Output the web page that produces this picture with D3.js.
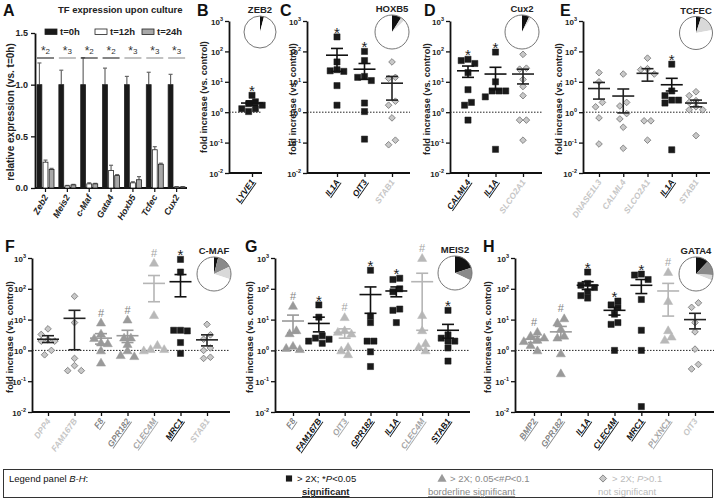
<!DOCTYPE html>
<html><head><meta charset="utf-8">
<script src="https://cdn.jsdelivr.net/npm/d3@7"></script>
<style>body{margin:0;background:#fff}svg{font-family:Arial,"Liberation Sans",sans-serif}</style>
</head><body><svg id="c" width="717" height="499"></svg>
<script>
// ---------------- DATA ----------------
// Panel A
const A_genes = ["Zeb2","Meis2","c-Maf","Gata4","Hoxb5","Tcfec","Cux2"];
const A_times = ["t=0h","t=12h","t=24h"];
const A_t0  = [1,1,1,1,1,1,1];
const A_t12 = [0.25,0.02,0.04,0.17,0.05,0.37,0.01];
const A_t24 = [0.18,0.03,0.04,0.12,0.08,0.23,0.01];
const A_err0  = [0.21,0.14,0.26,0.16,0.08,0.12,0.10];
const A_err12 = [0.02,0.005,0.01,0.05,0.01,0.03,0.003];
const A_err24 = [0.01,0.005,0.005,0.01,0.03,0.01,0.003];
const A_sig = ["2","3","2","2","3","3","3"];
const A_yTicks = [0,0.5,1.0,1.5];
const LOG_TICKS = [1e-2,1e-1,1,1e1,1e2,1e3];
const LOG_EXP = ["-2","-1","0","1","2","3"];

// Panel B (ZEB2)
const B_genes = ["LYVE1"];
const B_class = ["sig"];
const B_points = [[3.6,2.2,1.9,1.7,1.3,1.3,1.05]];
const B_mean = [2.0], B_lo = [1.7], B_hi = [2.35];
const B_pie = [0.04,0,0,0.96];

// Panel C (HOXB5)
const C_genes = ["IL1A","OIT3","STAB1"];
const C_class = ["sig","sig","ns"];
const C_points = [[300,45,25,23,22,7.5,1.7],[100,50,15,14,11,2.0,1.05,0.13],[45,14,13,2.3,1.7,0.65,0.12,0.085]];
const C_mean = [75,26,9], C_lo = [22,12,2.5], C_hi = [125,40,15];
const C_pie = [0.09,0,0.04,0.87];

// Panel D (Cux2)
const D_genes = ["CALML4","IL1A","SLCO2A1"];
const D_class = ["sig","sig","ns"];
const D_points = [[55,50,40,20,5.5,2.1,1.7,0.55],[95,10,5,5,5,3.2,0.06],[80,28,26,12,7,3.5,0.55,0.55,0.12]];
const D_mean = [23,18,18], D_lo = [14,5.5,8.5], D_hi = [33,30,26];
const D_pie = [0.07,0,0.02,0.91];

// Panel E (TCFEC)
const E_genes = ["DNASE1L3","CALML4","SLCO2A1","IL1A","STAB1"];
const E_class = ["ns","ns","ns","sig","ns"];
const E_points = [[20,10,2.1,1.5,0.65,0.09],[18,2.1,1.6,0.9,0.6,0.32,0.065],[60,27,25,18,0.52,0.52,0.12],[38,5,3.5,2.5,2.5,2.0,0.058],[4.7,3.5,2.4,2.1,1.5,1.2,1.2,0.17]];
const E_mean = [6,3.4,19,8,2.0], E_lo = [2.7,0.95,10.5,5,1.5], E_hi = [9.5,5.8,27,13,2.5];
const E_pie = [0.05,0,0.17,0.78];

// Panel F (C-MAF)
const F_genes = ["DPP4","FAM167B","F8","GPR182","CLEC4M","MRC1","STAB1"];
const F_class = ["ns","ns","bord","bord","bordL","sig","ns"];
const F_points = [[5,3.3,2.2,2.0,2.0,1.0,0.72],[57,8,0.55,0.32,0.22,0.22],[8,3.5,2.5,1.8,1.7,1.0,0.4],[10,2.6,2.6,1.6,1.0,0.7,0.65],[700,14,1.5,1.1,1.0,1.1],[900,350,4.5,4.5,4.3,1.8,0.8],[7,3.2,2.3,1.2,1.0,0.6,0.55]];
const F_mean = [2.3,11,2.5,3.0,150,170,2.2], F_lo = [1.8,1.05,1.6,1.8,38,55,1.4], F_hi = [3.0,20,3.5,4.5,270,290,3.2];
const F_pie = [0.04,0.14,0.12,0.70];

// Panel G (MEIS2)
const G_genes = ["F8","FAM167B","OIT3","GPR182","IL1A","CLEC4M","STAB1"];
const G_class = ["bord","sig","bordL","sig","sig","bordL","sig"];
const G_points = [[28,4.5,3.6,1.4,1.2,1.1],[30,12,3,2.5,2.3,2.0,1.7],[12,4.5,4,3.5,1.3,1.0,0.75],[400,13,8,2.0,2.0,0.9,0.3],[220,200,100,80,22,20,8],[1000,14,4.5,1.7,1.3,1.0],[20,3.2,2.5,2.0,2.0,1.2,0.45]];
const G_mean = [9,7.5,3.8,65,85,170,4.5], G_lo = [3.7,4,2.5,16,55,4.5,2.5], G_hi = [14,12,5,115,115,320,7];
const G_pie = [0.20,0.12,0,0.68];

// Panel H (GATA4)
const H_genes = ["BMP2","GPR182","IL1A","CLEC4M","MRC1","PLXNC1","OIT3"];
const H_class = ["bord","bord","sig","sig","sig","bordL","ns"];
const H_points = [[4,3,2.6,2.2,2.0,1.5,1.0],[11,8,5,3,2.6,0.8,0.18],[350,150,130,110,80,60,50],[40,30,25,15,8,7,1.0],[300,280,200,45,4.5,1.0,0.015],[350,40,4.5,2.8,2.2],[35,25,8,4,1.1,0.35,0.25]];
const H_mean = [2.3,4,130,20,130,85,10], H_lo = [1.8,2.6,95,14,70,13,5], H_hi = [2.8,6,170,25,200,150,16];
const H_pie = [0.12,0.14,0.05,0.69];

// ---------------- STYLE ----------------
const STY = {
  sig:   {fill:"#1a1a1a", stroke:"#1a1a1a", label:"#111", under:true, bar:"#111", mark:"*"},
  bord:  {fill:"#9a9a9a", stroke:"#9a9a9a", label:"#858585", under:true, bar:"#999", mark:"#"},
  bordL: {fill:"#b8b8b8", stroke:"#b8b8b8", label:"#a5a5a5", under:true, bar:"#b5b5b5", mark:"#"},
  ns:    {fill:"#c8c8c8", stroke:"#777", label:"#c6c6c6", under:false, bar:"#222", mark:""}
};
const PIE_COLORS = ["#111","#8a8a8a","#d9d9d9","#ffffff"];
const FONT = "Arial,'Liberation Sans',sans-serif";

const svg = d3.select("#c");

function letter(t,x,y){
  svg.append("text").attr("x",x).attr("y",y).attr("font-size",16).attr("font-weight","bold").attr("fill","#111").text(t);
}

// ---------------- PANEL A ----------------
(function(){
  const g = svg.append("g");
  const x0 = d3.scaleBand().domain(A_genes).range([36,189]);
  const x1 = d3.scaleBand().domain(A_times).range([1,18]).paddingInner(0.2);
  const y = d3.scaleLinear().domain([0,1.5]).range([188,33]);
  const vals = [A_t0,A_t12,A_t24], errs = [A_err0,A_err12,A_err24];
  const fills = ["#1a1a1a","#ffffff","#a8a8a8"];
  const ya = g.append("g").attr("transform","translate(35,0)")
    .call(d3.axisLeft(y).tickValues(A_yTicks).tickFormat(d3.format(".1f")).tickSize(4).tickSizeOuter(0));
  ya.select(".domain").attr("stroke","#111").attr("stroke-width",1.8);
  ya.selectAll(".tick line").attr("stroke","#111").attr("stroke-width",1.3);
  ya.selectAll(".tick text").attr("font-size",9).attr("font-weight","bold").attr("fill","#222").attr("font-family",FONT);
  g.append("line").attr("x1",35).attr("x2",187).attr("y1",188).attr("y2",188).attr("stroke","#111").attr("stroke-width",1.8);
  A_genes.forEach((gn,i)=>{
    const gx = x0(gn);
    A_times.forEach((t,j)=>{
      const bx = gx + x1(t), w = x1.bandwidth(), v = vals[j][i], e = errs[j][i];
      g.append("line").attr("x1",bx+w/2).attr("x2",bx+w/2).attr("y1",y(v)).attr("y2",y(v+e)).attr("stroke","#666").attr("stroke-width",1.2);
      g.append("line").attr("x1",bx+w/2-2).attr("x2",bx+w/2+2).attr("y1",y(v+e)).attr("y2",y(v+e)).attr("stroke","#666").attr("stroke-width",1.2);
      g.append("rect").attr("x",bx).attr("y",y(v)).attr("width",w).attr("height",y(0)-y(v))
        .attr("fill",fills[j]).attr("stroke","#222").attr("stroke-width",0.8);
    });
    const cx = gx + 9.5;
    g.append("line").attr("x1",cx).attr("x2",cx).attr("y1",188).attr("y2",192).attr("stroke","#111").attr("stroke-width",1.2);
    const st = g.append("text").attr("x",cx).attr("y",55).attr("text-anchor","middle").attr("font-family",FONT).attr("fill","#333");
    st.append("tspan").attr("font-size",12).attr("fill","#333").text("*");
    st.append("tspan").attr("font-size",8).attr("dy",-1).attr("fill","#333").text(A_sig[i]);
    g.append("line").attr("x1",gx+1).attr("x2",gx+18).attr("y1",58).attr("y2",58)
      .attr("stroke", A_sig[i]==="2" ? "#333" : "#999").attr("stroke-width",1.2);
    g.append("text").attr("transform",`translate(${cx+3},${197}) rotate(-60)`).attr("text-anchor","end")
      .attr("font-size",9).attr("font-weight","bold").attr("font-style","italic").attr("fill","#222").text(gn);
  });
  const lx = [45,95,142];
  A_times.forEach((t,j)=>{
    g.append("rect").attr("x",lx[j]).attr("y",29).attr("width",12).attr("height",5.5).attr("fill",fills[j]).attr("stroke","#222").attr("stroke-width",0.8);
    g.append("text").attr("x",lx[j]+15).attr("y",35).attr("font-size",9.5).attr("font-weight","bold").attr("fill","#222").text(t);
  });
  g.append("text").attr("x",58).attr("y",13).attr("font-size",9.5).attr("font-weight","bold").attr("fill","#222").text("TF expression upon culture");
  g.append("text").attr("transform","translate(14,112) rotate(-90)").attr("text-anchor","middle")
    .attr("font-size",10).attr("font-weight","bold").attr("fill","#222").text("relative expression (vs. t=0h)");
  letter("A",3,16);
})();

// ---------------- SCATTER PANELS ----------------
function swarm(vals, y){
  const pts = vals.map(v=>({v, py:y(v), dx:0})).sort((a,b)=>a.py-b.py);
  const step = 6.8;
  const clusters = [];
  pts.forEach((p,i)=>{
    if(i>0 && p.py - pts[i-1].py < 6) clusters[clusters.length-1].push(p); else clusters.push([p]);
  });
  clusters.forEach(cl=>{
    const placed=[];
    cl.forEach(p=>{
      for(const k of [0,-1,1,-2,2,-3,3]){
        const dx=k*step;
        if(placed.every(q=>Math.abs(q.py-p.py)>=6 || Math.abs(q.dx-dx)>=6)){p.dx=dx;break;}
      }
      placed.push(p);
    });
    const mn=d3.min(cl,d=>d.dx), mx=d3.max(cl,d=>d.dx), sh=(mn+mx)/2;
    cl.forEach(p=>p.dx-=sh);
  });
  return pts;
}

function scatterPanel(c){
  const g = svg.append("g");
  const y = d3.scaleLog().domain([1e-2,1e3]).range([c.yBot,c.yTop]);
  const x = d3.scalePoint().domain(c.genes).range([c.first,c.last]);
  const ya = g.append("g").attr("transform",`translate(${c.axisX},0)`)
    .call(d3.axisLeft(y).tickValues(LOG_TICKS).tickFormat(()=>"").tickSize(4).tickSizeOuter(0));
  ya.select(".domain").attr("stroke","#111").attr("stroke-width",1.8);
  ya.selectAll(".tick line").attr("stroke","#111").attr("stroke-width",1.3);
  ya.selectAll(".tick").each(function(d,i){
    const t = d3.select(this).append("text").attr("x",-6).attr("y",3).attr("text-anchor","end")
      .attr("fill","#222").attr("font-size",8).attr("font-weight","bold").attr("font-family",FONT);
    t.append("tspan").text("10");
    t.append("tspan").attr("dy",-3.5).attr("font-size",5.5).text(LOG_EXP[i]);
  });
  const xa = g.append("g").attr("transform",`translate(0,${c.yBot})`)
    .call(d3.axisBottom(x).tickFormat(()=>"").tickSize(4).tickSizeOuter(0));
  xa.select(".domain").remove();
  xa.selectAll(".tick line").attr("stroke","#111").attr("stroke-width",1.3);
  g.append("line").attr("x1",c.axisX).attr("x2",c.axisEnd).attr("y1",c.yBot).attr("y2",c.yBot).attr("stroke","#111").attr("stroke-width",1.8);
  g.append("line").attr("x1",c.axisX).attr("x2",c.axisEnd).attr("y1",y(1)).attr("y2",y(1))
    .attr("stroke","#222").attr("stroke-width",1).attr("stroke-dasharray","1.5,1.5");
  g.append("text").attr("transform",`translate(${c.ylabX},${c.ylabY}) rotate(-90)`).attr("text-anchor","middle")
    .attr("font-size",9.2).attr("font-weight","bold").attr("fill","#222").text("fold increase (vs. control)");
  const symSq = d3.symbol().type(d3.symbolSquare).size(38)();
  const symTri = d3.symbol().type(d3.symbolTriangle).size(36)();
  const symDia = d3.symbol().type(d3.symbolSquare).size(22)();
  c.genes.forEach((gn,i)=>{
    const cls = c.cls[i], s = STY[cls], cx = x(gn);
    const pts = swarm(c.pts[i], y);
    pts.forEach(p=>{
      const path = g.append("path").attr("fill",s.fill).attr("stroke",s.stroke).attr("stroke-width",cls==="ns"?0.8:0.5);
      if(cls==="sig") path.attr("d",symSq).attr("transform",`translate(${cx+p.dx},${p.py})`);
      else if(cls==="ns") path.attr("d",symDia).attr("transform",`translate(${cx+p.dx},${p.py}) rotate(45)`);
      else path.attr("d",symTri).attr("transform",`translate(${cx+p.dx},${p.py+0.8})`);
    });
    const bc = s.bar;
    g.append("line").attr("x1",cx-11).attr("x2",cx+11).attr("y1",y(c.mean[i])).attr("y2",y(c.mean[i])).attr("stroke",bc).attr("stroke-width",1.6);
    g.append("line").attr("x1",cx).attr("x2",cx).attr("y1",y(c.lo[i])).attr("y2",y(c.hi[i])).attr("stroke",bc).attr("stroke-width",1.6);
    [c.lo[i],c.hi[i]].forEach(v=>g.append("line").attr("x1",cx-6).attr("x2",cx+6).attr("y1",y(v)).attr("y2",y(v)).attr("stroke",bc).attr("stroke-width",1.6));
    const topY = Math.min(y(d3.max(c.pts[i])), y(c.hi[i]));
    if(s.mark==="*") g.append("text").attr("x",cx).attr("y",topY+1).attr("text-anchor","middle").attr("font-size",15).attr("font-family",FONT).attr("fill","#222").text("*");
    else if(s.mark==="#") g.append("text").attr("x",cx).attr("y",topY-6).attr("text-anchor","middle").attr("font-size",11).attr("font-family",FONT).attr("fill",s.label).text("#");
    g.append("text").attr("transform",`translate(${cx+3},${c.yBot+9}) rotate(-55)`).attr("text-anchor","end")
      .attr("font-size",8.5).attr("font-weight","bold").attr("font-style","italic").attr("fill",s.label)
      .attr("text-decoration", s.under ? "underline" : "none").text(gn);
  });
  const pg = g.append("g").attr("transform",`translate(${c.pieX},${c.pieY})`);
  const arcs = d3.pie().sort(null).value(d=>d)(c.pie);
  const arc = d3.arc().innerRadius(0).outerRadius(c.pieR);
  pg.selectAll("path").data(arcs).join("path").attr("d",arc).attr("fill",(d,i)=>PIE_COLORS[i]).attr("stroke","none");
  pg.append("circle").attr("r",c.pieR).attr("fill","none").attr("stroke","#777").attr("stroke-width",1);
  g.append("text").attr("x",c.pieX).attr("y",c.pieY-c.pieR-3).attr("text-anchor","middle").attr("font-size",9.5).attr("font-weight","bold").attr("fill","#222").text(c.pieName);
  letter(c.letter,c.lx,c.ly);
}

scatterPanel({genes:B_genes,cls:B_class,pts:B_points,mean:B_mean,lo:B_lo,hi:B_hi,pie:B_pie,pieName:"ZEB2",
  axisX:229,axisEnd:262,first:252,last:252,yTop:21,yBot:173,ylabX:207,ylabY:97,pieX:260,pieY:32,pieR:16,letter:"B",lx:197,ly:16});
scatterPanel({genes:C_genes,cls:C_class,pts:C_points,mean:C_mean,lo:C_lo,hi:C_hi,pie:C_pie,pieName:"HOXB5",
  axisX:307,axisEnd:410,first:337,last:392,yTop:21,yBot:173,ylabX:296,ylabY:99,pieX:392,pieY:32,pieR:17,letter:"C",lx:280,ly:16});
scatterPanel({genes:D_genes,cls:D_class,pts:D_points,mean:D_mean,lo:D_lo,hi:D_hi,pie:D_pie,pieName:"Cux2",
  axisX:450,axisEnd:542,first:468,last:523,yTop:21,yBot:173,ylabX:430,ylabY:99,pieX:522,pieY:32,pieR:17,letter:"D",lx:424,ly:16});
scatterPanel({genes:E_genes,cls:E_class,pts:E_points,mean:E_mean,lo:E_lo,hi:E_hi,pie:E_pie,pieName:"TCFEC",
  axisX:583,axisEnd:710,first:599,last:696,yTop:21,yBot:173,ylabX:562,ylabY:99,pieX:696,pieY:33,pieR:16.5,letter:"E",lx:560,ly:16});
scatterPanel({genes:F_genes,cls:F_class,pts:F_points,mean:F_mean,lo:F_lo,hi:F_hi,pie:F_pie,pieName:"C-MAF",
  axisX:32,axisEnd:230,first:48,last:207,yTop:258,yBot:412,ylabX:13,ylabY:337,pieX:214,pieY:274,pieR:17,letter:"F",lx:5,ly:252});
scatterPanel({genes:G_genes,cls:G_class,pts:G_points,mean:G_mean,lo:G_lo,hi:G_hi,pie:G_pie,pieName:"MEIS2",
  axisX:275,axisEnd:470,first:293,last:448,yTop:258,yBot:412,ylabX:253,ylabY:337,pieX:455,pieY:273,pieR:17,letter:"G",lx:245,ly:252});
scatterPanel({genes:H_genes,cls:H_class,pts:H_points,mean:H_mean,lo:H_lo,hi:H_hi,pie:H_pie,pieName:"GATA4",
  axisX:515,axisEnd:714,first:534,last:695,yTop:258,yBot:412,ylabX:491,ylabY:337,pieX:696,pieY:274,pieR:17,letter:"H",lx:483,ly:252});

// ---------------- LEGEND B-H ----------------
(function(){
  const g = svg.append("g").attr("font-size",9.5);
  g.append("rect").attr("x",3.5).attr("y",469.5).attr("width",709).attr("height",28).attr("fill","none").attr("stroke","#333").attr("stroke-width",1);
  const t0 = g.append("text").attr("x",9).attr("y",482).attr("fill","#111");
  t0.append("tspan").text("Legend panel ");
  t0.append("tspan").attr("font-style","italic").text("B-H");
  t0.append("tspan").text(":");
  g.append("path").attr("d",d3.symbol().type(d3.symbolSquare).size(38)()).attr("transform","translate(289,478.5)").attr("fill","#1a1a1a");
  const t1 = g.append("text").attr("x",297).attr("y",482).attr("fill","#111");
  t1.append("tspan").text("> 2X; *"); t1.append("tspan").attr("font-style","italic").text("P"); t1.append("tspan").text("<0.05");
  g.append("text").attr("x",302).attr("y",495).attr("fill","#222").attr("font-weight","bold").attr("text-decoration","underline").text("significant");
  g.append("path").attr("d",d3.symbol().type(d3.symbolTriangle).size(36)()).attr("transform","translate(442,479)").attr("fill","#9a9a9a");
  const t2 = g.append("text").attr("x",450).attr("y",482).attr("fill","#888");
  t2.append("tspan").text("> 2X; 0.05<#"); t2.append("tspan").attr("font-style","italic").text("P"); t2.append("tspan").text("<0.1");
  g.append("text").attr("x",428).attr("y",495).attr("fill","#888").attr("text-decoration","underline").text("borderline significant");
  g.append("path").attr("d",d3.symbol().type(d3.symbolSquare).size(26)()).attr("transform","translate(603,478.5) rotate(45)").attr("fill","#c8c8c8").attr("stroke","#777").attr("stroke-width",0.8);
  const t3 = g.append("text").attr("x",612).attr("y",482).attr("fill","#bbb");
  t3.append("tspan").text("> 2X; "); t3.append("tspan").attr("font-style","italic").text("P"); t3.append("tspan").text(">0.1");
  g.append("text").attr("x",598).attr("y",495).attr("fill","#bbb").text("not significant");
})();
</script></body></html>
